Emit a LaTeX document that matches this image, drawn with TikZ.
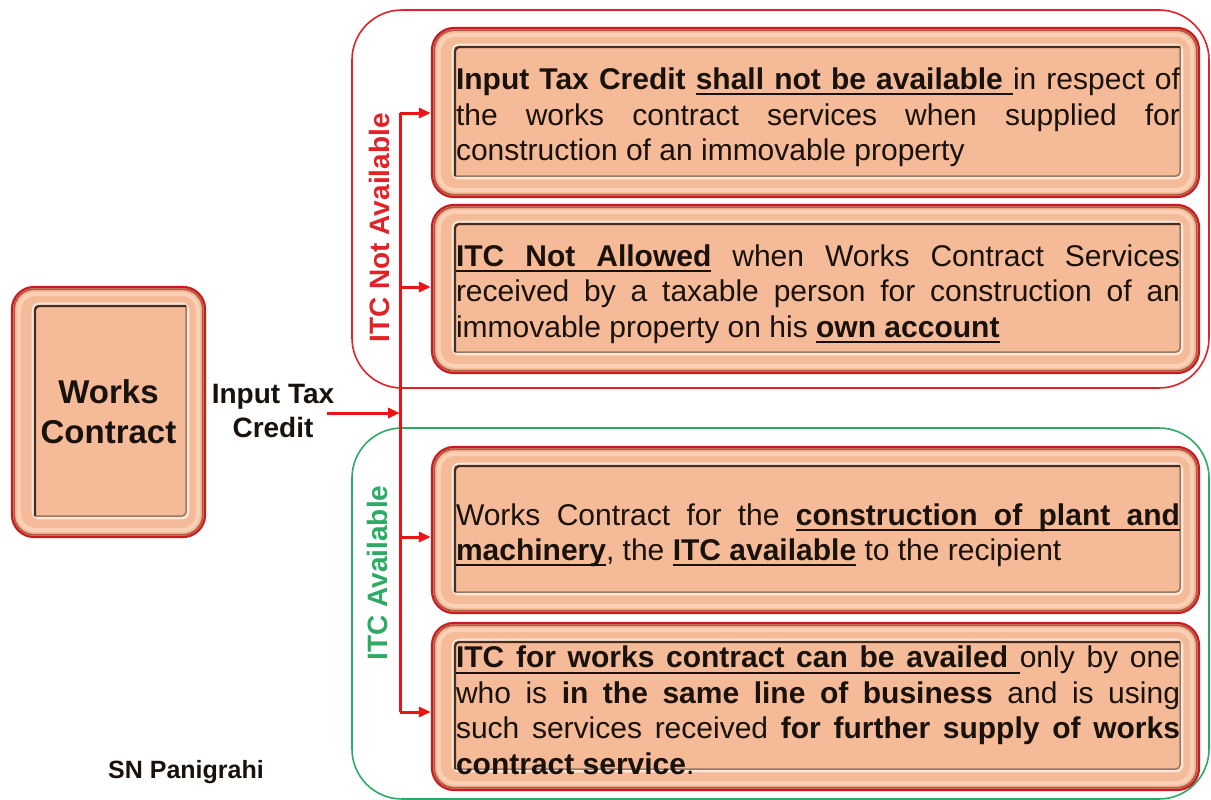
\documentclass[tikz,border=0pt]{standalone}
\usepackage{fontspec}
\setmainfont{Liberation Sans}
\usetikzlibrary{arrows.meta,calc}

% underlined word and underlined (stretchable) interword space
\newcommand\uw[1]{\setbox0=\hbox{#1}\leavevmode
  \rlap{\vrule height -3.6pt depth 5.6pt width \wd0}\box0}
\newcommand\us{\leaders\hrule height -3.6pt depth 5.6pt
  \hskip\fontdimen2\font plus\fontdimen3\font minus\fontdimen4\font\relax}

\definecolor{peach}{RGB}{245,186,152}
\definecolor{rimlight}{RGB}{252,214,190}
\definecolor{rimdark}{RGB}{150,60,45}
\definecolor{paneldark}{RGB}{70,45,30}
\definecolor{panelgrey}{RGB}{150,120,100}
\definecolor{boxred}{RGB}{205,25,30}
\definecolor{grpred}{RGB}{225,35,40}
\definecolor{grpgreen}{RGB}{45,170,100}
\definecolor{arrred}{RGB}{235,20,20}
\definecolor{txt}{RGB}{25,18,12}

% width of one justified text line inside a card
\newlength\cardw
\setlength\cardw{724pt}
\newcommand\jl[1]{\makebox[\cardw][s]{\spaceskip=0pt\xspaceskip=0pt #1}\\}

\tikzset{
  bevel/.style={rectangle, rounded corners=22pt, fill=peach, draw=boxred,
    line width=2.2pt, inner sep=0pt, text=txt,
    path picture={
      \path (path picture bounding box.north west) coordinate (bvA)
            (path picture bounding box.south east) coordinate (bvB);
      % dark ring just inside the red outline
      \draw[rimdark, line width=1.8pt, rounded corners=20pt, opacity=.75]
        ($(bvA)+(2.2pt,-2.2pt)$) rectangle ($(bvB)+(-2.2pt,2.2pt)$);
      % raised light rim
      \draw[rimlight, line width=4pt, rounded corners=16pt, opacity=.8]
        ($(bvA)+(7pt,-7pt)$) rectangle ($(bvB)+(-7pt,7pt)$);
      % inset panel
      \path ($(bvA)+(23pt,-19pt)$) coordinate (pnA)
            ($(bvB)+(-19pt,21pt)$) coordinate (pnB);
      \draw[white!40!rimlight, line width=2.6pt, rounded corners=6pt]
        ($(pnA)+(-2pt,2pt)$) rectangle ($(pnB)+(2pt,-2pt)$);
      \fill[peach] (pnA) rectangle (pnB);
      \draw[panelgrey, line width=1.5pt, rounded corners=4pt]
        (pnA -| pnB) -- (pnB) -- (pnA |- pnB);
      \draw[paneldark, line width=2.4pt, rounded corners=4pt]
        (pnA |- pnB) -- (pnA) -- (pnA -| pnB);
    }},
  card/.style={bevel, minimum width=767pt},
  cardtext/.style={text width=\cardw, align=left, inner sep=0pt, text=txt,
    font=\fontsize{30}{35.5}\selectfont,
    execute at begin node={\spaceskip=0pt\xspaceskip=0pt}},
  group/.style={rounded corners=50pt, line width=1.6pt},
  feed/.style={arrred, line width=3pt},
  feedarrow/.style={feed, -{Triangle[length=12pt,width=10pt]}},
  sidelabel/.style={rotate=90, font=\bfseries\fontsize{28}{30}\selectfont}
}

\begin{document}
\begin{tikzpicture}[x=1pt, y=-1pt]
\useasboundingbox (0,0) rectangle (1211,800);

% grouping frames
\draw[group, grpred] (352,10) rectangle (1209,388);
\draw[group, grpgreen] (352,428) rectangle (1209,799);

% source card
\node[bevel, minimum width=193pt, minimum height=250pt, align=center,
      font=\bfseries\fontsize{33}{40}\selectfont] (wc) at (108.5,412)
  {Works\\Contract};

\node[align=center, text=txt, font=\bfseries\fontsize{28}{34}\selectfont]
  (itc) at (273,411) {Input Tax\\Credit};

% outcome cards
\node[card, minimum height=169pt] (c1) at (815.5,112.5) {};
\node[card, minimum height=168pt] (c2) at (815.5,289) {};
\node[card, minimum height=166pt] (c3) at (815.5,530) {};
\node[card, minimum height=167pt] (c4) at (815.5,706.5) {};

\node[cardtext] (t1) at ($(c1.center)+(2.5pt,-5pt)$) {%
\jl{\textbf{Input Tax Credit} {\bfseries\uw{shall}\us\uw{not}\us\uw{be}\us\uw{available}\us}in respect of}
\jl{the works contract services when supplied for}
construction of an immovable property};

\node[cardtext] (t2) at ($(c2.center)+(2.5pt,-5pt)$) {%
\jl{{\bfseries\uw{ITC}\us\uw{Not}\us\uw{Allowed}} when Works Contract Services}
\jl{received by a taxable person for construction of an}
immovable property on his {\bfseries\uw{own}\us\uw{account}}};

\node[cardtext] (t3) at ($(c3.center)+(2.5pt,-5pt)$) {%
\jl{Works Contract for the {\bfseries\uw{construction}\us\uw{of}\us\uw{plant}\us\uw{and}}}
{\bfseries\uw{machinery}}, the {\bfseries\uw{ITC}\us\uw{available}} to the recipient};

\node[cardtext] (t4) at ($(c4.center)+(2.5pt,-4pt)$) {%
\jl{{\bfseries\uw{ITC}\us\uw{for}\us\uw{works}\us\uw{contract}\us\uw{can}\us\uw{be}\us\uw{availed}\us}only by one}
\jl{who is \textbf{in the same line of business} and is using}
\jl{such services received \textbf{for further supply of works}}
\textbf{contract service}.};

% group captions
\node[sidelabel, text=grpred] (capno) at (379,228) {ITC Not Available};
\node[sidelabel, text=grpgreen] (capyes) at (377,573) {ITC Available};

% distribution trunk and branches
\coordinate (src) at (327,413);
\coordinate (hub) at (400,413);
\coordinate (br1) at (400,113);
\coordinate (br2) at (400,287);
\coordinate (br3) at (400,537);
\coordinate (br4) at (400,712);

\draw[feed] (br1) -- (br4);
\draw[feedarrow] (src) -- (hub);
\draw[feedarrow] (br1) -- (br1 -| c1.west);
\draw[feedarrow] (br2) -- (br2 -| c2.west);
\draw[feedarrow] (br3) -- (br3 -| c3.west);
\draw[feedarrow] (br4) -- (br4 -| c4.west);

\node[text=txt, font=\bfseries\fontsize{25}{28}\selectfont] (author) at (186,772)
  {SN Panigrahi};
\end{tikzpicture}
\end{document}
